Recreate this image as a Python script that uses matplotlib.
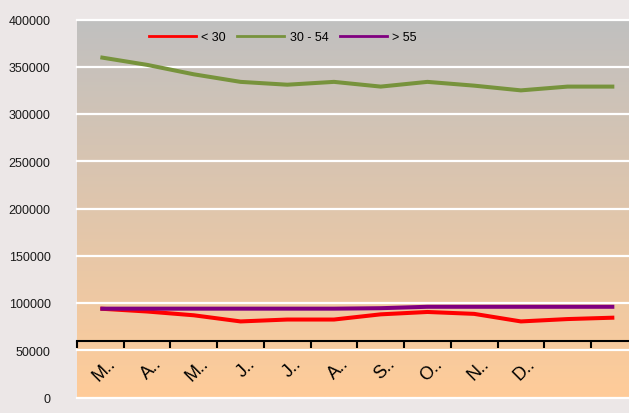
import matplotlib
matplotlib.use('Agg')
import matplotlib.pyplot as plt
import matplotlib.transforms as mtrans
import numpy as np
from matplotlib.colors import LinearSegmentedColormap
from matplotlib.lines import Line2D

plt.rcParams['font.family'] = ['Liberation Sans', 'DejaVu Sans']

months = ['M..', 'A..', 'M..', 'J..', 'J..', 'A..', 'S..', 'O..', 'N..', 'D..', '', '']
under30 = [94000, 91000, 87000, 80500, 82500, 82500, 88000, 90500, 88500, 80500, 83000, 84500]
age30_54 = [360000, 352000, 342000, 334000, 331000, 334000, 329000, 334000, 330000, 325000, 329000, 329000]
over55 = [94000, 94000, 94000, 94000, 94000, 94000, 94500, 96000, 96000, 96000, 96000, 96000]
series_names = ['< 30', '30 - 54', '> 55']
series_colors = ['#ff0000', '#77933c', '#800080']
yticks = list(range(0, 400001, 50000))

W, H = 629, 414
fig = plt.figure(figsize=(W / 100, H / 100), dpi=100, facecolor='#ece7e7')
left = 77 / W
right = 637.7 / W
bottom = 1 - 398.5 / H
top = 1 - 20.5 / H
ax = fig.add_axes([left, bottom, right - left, top - bottom])

n = len(months)
x = np.arange(n)
ax.set_xlim(-0.5, n - 0.5)
ax.set_ylim(0, 400000)

cmap = LinearSegmentedColormap.from_list('g', ['#c0c0c0', '#ffcc99'])
ax.imshow(np.linspace(0, 1, 256).reshape(-1, 1), extent=[-0.5, n - 0.5, 0, 400000],
          aspect='auto', cmap=cmap, origin='upper', zorder=0)

ax.set_yticks(yticks)
ax.set_yticklabels([str(v) for v in yticks])
ax.set_axisbelow('line')
ax.yaxis.grid(True, color='white', lw=1.6)
for gl in ax.get_ygridlines():
    gl.set_clip_on(False)
ax.tick_params(axis='y', length=0, pad=19, labelsize=9, labelcolor='#1a1a1a')

for s in ['left', 'right', 'top']:
    ax.spines[s].set_visible(False)
ax.spines['bottom'].set_position(('data', 60000))
ax.spines['bottom'].set_linewidth(1.5)
ax.spines['bottom'].set_color('black')
ax.spines['bottom'].set_zorder(2.5)

ax.set_xticks(np.arange(-0.5, n, 1))
ax.set_xticklabels([])
ax.set_xticks(x, minor=True)
ax.set_xticklabels(months, minor=True)
ax.tick_params(axis='x', which='major', length=5, width=1.5, direction='out', color='black')
ax.tick_params(axis='x', which='minor', length=0, pad=10, labelsize=13, labelcolor='black')
offset = mtrans.ScaledTranslation(6 / 100, 0, fig.dpi_scale_trans)
for lbl in ax.get_xticklabels(minor=True):
    lbl.set_rotation(45)
    lbl.set_ha('right')
    lbl.set_rotation_mode('anchor')
    lbl.set_transform(lbl.get_transform() + offset)

for vals, c in zip([under30, age30_54, over55], series_colors):
    ax.plot(x, vals, color=c, lw=2.9, zorder=3, solid_capstyle='butt')

handles = [Line2D([0], [0], color=c, lw=2) for c in series_colors]
ax.legend(handles, series_names, loc='center', bbox_to_anchor=(0.367, 0.954), ncol=3,
          frameon=False, fontsize=9, handlelength=3.76, handletextpad=0.45,
          columnspacing=0.9)

fig.savefig('out.png', dpi=100, facecolor=fig.get_facecolor())
